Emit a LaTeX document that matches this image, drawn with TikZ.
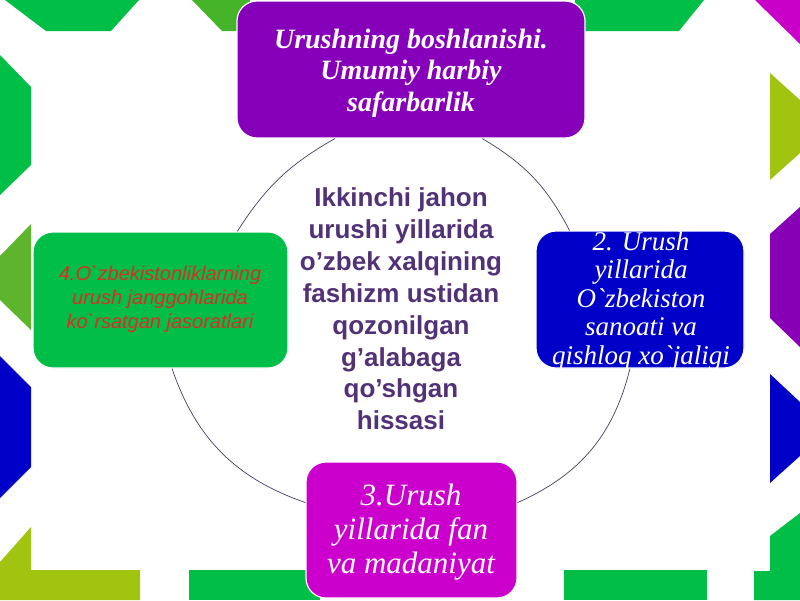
\documentclass[tikz,border=0pt]{standalone}
\usepackage{fontspec}
\setmainfont{Liberation Serif}
\newfontfamily\seriffont{Liberation Serif}
\newfontfamily\sansfont{Liberation Sans}
\usetikzlibrary{calc}
\definecolor{bggreen}{RGB}{0,190,70}
\definecolor{midgreen}{RGB}{70,180,40}
\definecolor{olive}{RGB}{95,180,45}
\definecolor{ygreen}{RGB}{160,196,16}
\definecolor{bgblue}{RGB}{0,0,200}
\definecolor{bgpurple}{RGB}{135,0,180}
\definecolor{bgmagenta}{RGB}{200,0,200}
\definecolor{topcol}{RGB}{135,0,185}
\definecolor{greencol}{RGB}{0,190,72}
\definecolor{bluecol}{RGB}{0,0,200}
\definecolor{magcol}{RGB}{204,0,204}
\definecolor{redtext}{RGB}{220,45,35}
\definecolor{centertext}{RGB}{82,50,118}
\definecolor{arccol}{RGB}{70,60,100}
\begin{document}
\begin{tikzpicture}[x=1pt,y=1pt,
  box/.style={draw=white, line width=1.2pt, rounded corners=20pt, inner sep=0pt},
  link/.style={draw=arccol, line width=0.7pt},
  boxtext/.style={align=center, inner sep=0pt}]
\useasboundingbox (0,0) rectangle (800,-600);
\fill[white] (0,0) rectangle (800,-600);
% background decorations
\fill[bggreen] (5,0) -- (139,0) -- (111,-31) -- (46,-31) -- cycle;
\fill[midgreen] (192,0) -- (250,0) -- (250,-31) -- (222,-31) -- cycle;
\fill[bggreen] (575,0) -- (704,0) -- (679,-31) -- (575,-31) -- cycle;
\fill[bgmagenta] (755,0) -- (800,0) -- (800,-44) -- cycle;
\fill[bggreen] (0,-55) -- (31,-87) -- (31,-165) -- (0,-195) -- cycle;
\fill[olive] (31,-224) -- (0,-256) -- (0,-300) -- (31,-330) -- cycle;
\fill[bgblue] (0,-356) -- (31,-387) -- (31,-467) -- (0,-498) -- cycle;
\fill[ygreen] (0,-562) -- (31,-527) -- (31,-570) -- (140,-570) -- (140,-600) -- (0,-600) -- cycle;
\fill[bggreen] (189,-570) rectangle (320,-600);
\fill[bggreen] (564,-570) rectangle (707,-600);
\fill[bggreen] (754,-600) -- (754,-571) -- (770,-571) -- (770,-536) -- (800,-513) -- (800,-600) -- cycle;
\fill[ygreen] (770,-73) -- (800,-100) -- (800,-153) -- (770,-180) -- cycle;
\fill[bgpurple] (800,-207) -- (770,-234) -- (770,-318) -- (800,-347) -- cycle;
\fill[bgblue] (770,-374) -- (800,-402) -- (800,-456) -- (770,-483) -- cycle;
% boxes
\node[box, fill=topcol, minimum width=348pt, minimum height=137pt] (top) at (411,-69.5) {};
\node[box, fill=greencol, minimum width=255pt, minimum height=136pt] (green) at (160.5,-300) {};
\node[box, fill=bluecol, minimum width=208pt, minimum height=137pt] (blue) at (640,-299.5) {};
\node[box, fill=magcol, minimum width=211pt, minimum height=136pt] (mag) at (411.5,-530) {};
% connectors
\draw[link] ($(top.south west)!0.704!(top.south east)$) to[bend left=16] ($(blue.north west)!0.163!(blue.north east)$);
\draw[link] ($(blue.south west)!0.452!(blue.south east)$) to[bend left=26] ($(mag.north east)!0.30!(mag.south east)$);
\draw[link] ($(mag.north west)!0.30!(mag.south west)$) to[bend left=26] ($(green.south west)!0.545!(green.south east)$);
\draw[link] ($(green.north west)!0.80!(green.north east)$) to[bend left=14] ($(top.south west)!0.282!(top.south east)$);
% texts
\node[boxtext, text=white, font={\seriffont\fontsize{28}{31.5}\selectfont\bfseries\itshape}] (toptext) at (411,-73) {Urushning boshlanishi.\\Umumiy harbiy\\safarbarlik};
\node[boxtext, text=white, font={\seriffont\fontsize{27}{28.5}\selectfont\itshape}] (bluetext) at (641,-300.5) {2. Urush\\yillarida\\O`zbekiston\\sanoati va\\qishloq xo`jaligi};
\node[boxtext, text=white, font={\seriffont\fontsize{31}{34}\selectfont\itshape}] (magtext) at (411,-532) {3.Urush\\yillarida fan\\va madaniyat};
\node[boxtext, text=redtext, font={\sansfont\fontsize{20}{24}\selectfont\itshape}] (greentext) at (160,-299) {4.O`zbekistonliklarning\\urush janggohlarida\\ko`rsatgan jasoratlari};
\node[boxtext, text=centertext, font={\sansfont\fontsize{26}{31.86}\selectfont\bfseries}] (center) at (401,-309) {Ikkinchi jahon\\urushi yillarida\\o’zbek xalqining\\fashizm ustidan\\qozonilgan\\g’alabaga\\qo’shgan\\hissasi};
\end{tikzpicture}
\end{document}
